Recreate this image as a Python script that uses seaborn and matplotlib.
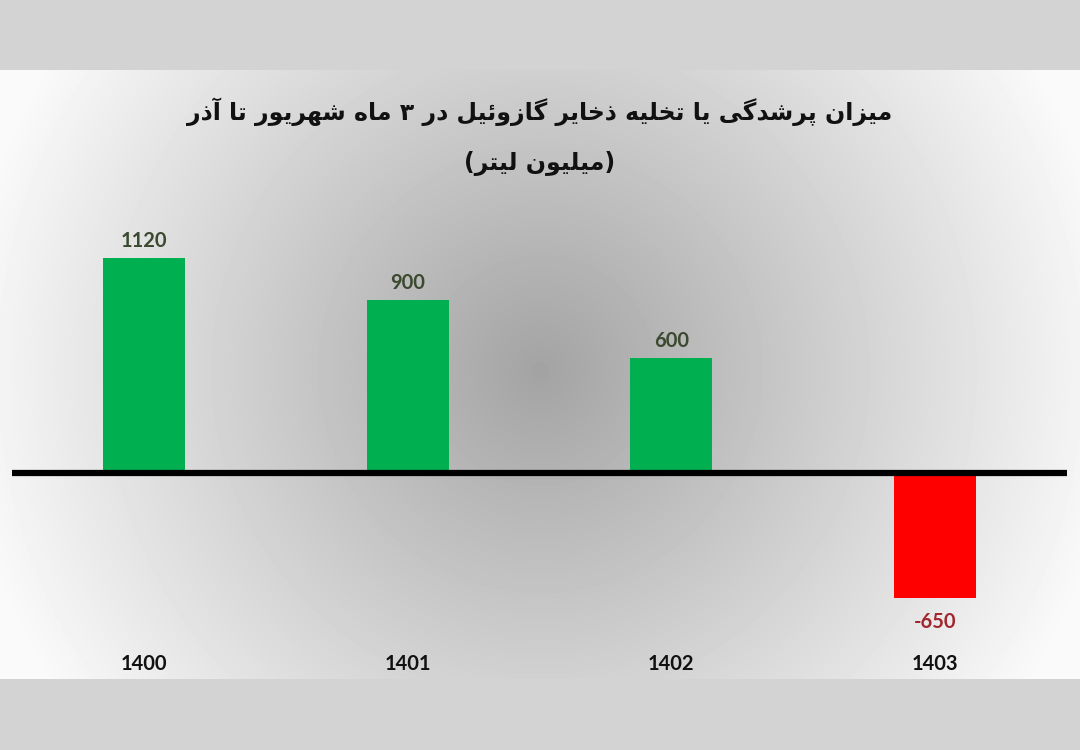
import numpy as np
import pandas as pd
import matplotlib
matplotlib.use("Agg")
import matplotlib.pyplot as plt
import seaborn as sns

# Data
years = ["1400", "1401", "1402", "1403"]
values = [1120, 900, 600, -650]
bar_colors = ["#00b050", "#00b050", "#00b050", "#ff0000"]
title_line1 = "میزان پرشدگی یا تخلیه ذخایر گازوئیل در ۳ ماه شهریور تا آذر"
title_line2 = "(میلیون لیتر)"

# Minimal Persian shaping (matplotlib draws no joined forms by itself)
FORMS = {
    "آ": ("\uFE81", "\uFE82", None, None),
    "ا": ("\uFE8D", "\uFE8E", None, None),
    "ئ": ("\uFE89", "\uFE8A", "\uFE8B", "\uFE8C"),
    "پ": ("\uFB56", "\uFB57", "\uFB58", "\uFB59"),
    "ت": ("\uFE95", "\uFE96", "\uFE97", "\uFE98"),
    "خ": ("\uFEA5", "\uFEA6", "\uFEA7", "\uFEA8"),
    "د": ("\uFEA9", "\uFEAA", None, None),
    "ذ": ("\uFEAB", "\uFEAC", None, None),
    "ر": ("\uFEAD", "\uFEAE", None, None),
    "ز": ("\uFEAF", "\uFEB0", None, None),
    "ش": ("\uFEB5", "\uFEB6", "\uFEB7", "\uFEB8"),
    "گ": ("\uFB92", "\uFB93", "\uFB94", "\uFB95"),
    "ل": ("\uFEDD", "\uFEDE", "\uFEDF", "\uFEE0"),
    "م": ("\uFEE1", "\uFEE2", "\uFEE3", "\uFEE4"),
    "ن": ("\uFEE5", "\uFEE6", "\uFEE7", "\uFEE8"),
    "ه": ("\uFEE9", "\uFEEA", "\uFEEB", "\uFEEC"),
    "و": ("\uFEED", "\uFEEE", None, None),
    "ی": ("\uFBFC", "\uFBFD", "\uFBFE", "\uFBFF"),
}


def shape(text):
    out = []
    for i, ch in enumerate(text):
        if ch not in FORMS:
            out.append(ch)
            continue
        prev = text[i - 1] if i > 0 else ""
        nxt = text[i + 1] if i < len(text) - 1 else ""
        iso, fin, ini, med = FORMS[ch]
        join_prev = prev in FORMS and FORMS[prev][2] is not None
        join_next = nxt in FORMS and ini is not None
        if join_prev and join_next:
            out.append(med)
        elif join_prev:
            out.append(fin)
        elif join_next:
            out.append(ini)
        else:
            out.append(iso)
    mirror = {"(": ")", ")": "("}
    return "".join(mirror.get(c, c) for c in reversed(out))


sns.set_theme(style="white")
plt.rcParams["font.family"] = ["Lato", "DejaVu Sans"]

W, H = 1080, 750
fig = plt.figure(figsize=(W / 100, H / 100), dpi=100)

# background: grey bands with a radial gradient panel
yy, xx = np.mgrid[0:H, 0:W]
r = np.hypot(xx - 540, yy - 370)
bg = np.clip(163 + r / 570 * 85, 0, 250)
bg[(yy < 70) | (yy > 678)] = 211
bg_ax = fig.add_axes([0, 0, 1, 1], zorder=0)
bg_ax.imshow(bg, cmap="gray", vmin=0, vmax=255, aspect="auto", interpolation="bilinear")
bg_ax.axis("off")

ax = fig.add_axes([12 / W, 110 / H, 1055 / W, 440 / H], zorder=1)
ax.patch.set_alpha(0)

df = pd.DataFrame({"year": years, "value": values})
sns.barplot(data=df, x="year", y="value", hue="year", palette=bar_colors,
            legend=False, width=0.31, saturation=1, linewidth=0, ax=ax)
ax.axhline(0, color="black", lw=4.5, zorder=5)

for cont, v in zip(ax.containers, values):
    color = "#3b4a2f" if v >= 0 else "#a2262e"
    ax.bar_label(cont, labels=[str(v)], padding=5 if v >= 0 else 10, color=color,
                 fontsize=14.5, fontweight="bold")

ax.set_xlim(-0.5, 3.5)
ax.set_ylim(-870, 1422)
ax.set_yticks([])
ax.set_xlabel("")
ax.set_ylabel("")
ax.tick_params(axis="x", length=0, pad=10, labelsize=14.5)
for lab in ax.get_xticklabels():
    lab.set_fontweight("bold")
    lab.set_color("#111111")
sns.despine(ax=ax, left=True, bottom=True)

fig.text(0.5, 1 - 112 / H, shape(title_line1), ha="center", va="center",
         fontsize=17, fontweight="bold", family=["DejaVu Sans"], color="#111111")
fig.text(0.5, 1 - 163 / H, shape(title_line2), ha="center", va="center",
         fontsize=17, fontweight="bold", family=["DejaVu Sans"], color="#111111")

fig.savefig("out.png", dpi=100)
